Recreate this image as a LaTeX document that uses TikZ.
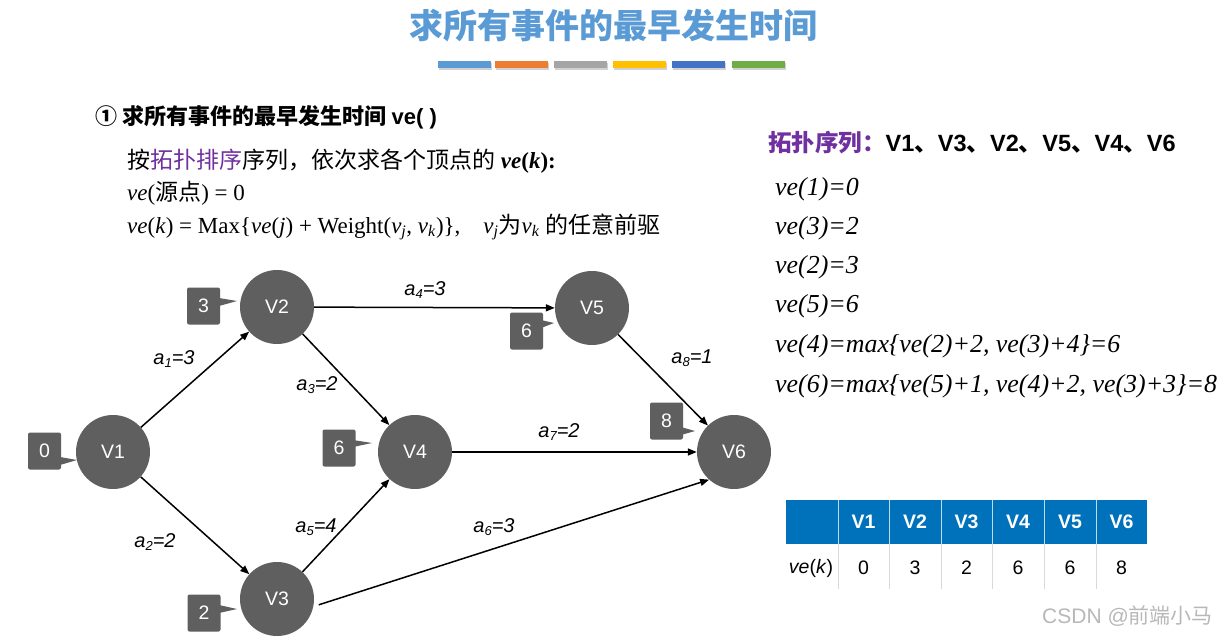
\documentclass[tikz,border=0pt]{standalone}
\usepackage{fontspec}
\setmainfont{Liberation Serif}
\setsansfont{Liberation Sans}
\newfontfamily\cjk{Noto Sans CJK SC}
\newfontfamily\hv{Liberation Sans}
\usetikzlibrary{arrows.meta}
\definecolor{nodegray}{RGB}{95,95,95}
\definecolor{titleblue}{RGB}{91,155,213}
\definecolor{purp}{RGB}{112,48,160}
\definecolor{tblue}{RGB}{0,114,188}
\definecolor{bc1}{RGB}{91,155,213}
\definecolor{bc2}{RGB}{237,125,49}
\definecolor{bc3}{RGB}{165,165,165}
\definecolor{bc4}{RGB}{255,192,0}
\definecolor{bc5}{RGB}{68,114,196}
\definecolor{bc6}{RGB}{112,173,71}
\newcommand\sbs[1]{\raisebox{-3pt}{\fontsize{13}{13}\selectfont #1}}
\tikzset{
 vtx/.style={circle, fill=nodegray, minimum size=74pt, inner sep=0pt, text=white, font=\hv\fontsize{19.5}{19.5}\selectfont},
 tagbox/.style={fill=nodegray, rounded corners=2pt, minimum width=33pt, minimum height=37pt, inner sep=0pt, text=white, font=\hv\fontsize{19.5}{19.5}\selectfont},
 arc/.style={line width=1.5pt, -{Triangle[length=9pt,width=7pt]}},
 elab/.style={font=\hv\itshape\fontsize{20}{20}\selectfont, inner sep=0pt},
 body/.style={anchor=west, inner sep=0pt, font=\fontsize{23}{23}\selectfont},
 veline/.style={anchor=base west, inner sep=0pt, font=\itshape\fontsize{25.9}{25.9}\selectfont},
 thead/.style={text=white, font=\hv\bfseries\fontsize{19.5}{19.5}\selectfont, inner sep=0pt},
 tcell/.style={font=\hv\fontsize{19.5}{19.5}\selectfont, inner sep=0pt},
}
\begin{document}
\begin{tikzpicture}[x=1pt,y=-1pt]
\useasboundingbox (0,0) rectangle (1227,635);
\fill[white] (0,0) rectangle (1227,635);
% title
\node[text=titleblue, font=\cjk\bfseries\fontsize{34}{34}\selectfont, inner sep=0pt] (title) at (613,26) {求所有事件的最早发生时间};
\foreach \xa/\c in {438/bc1,495/bc2,554/bc3,613/bc4,672/bc5,732/bc6}{
  \fill[black!18] (\xa+1,63) rectangle (\xa+54,70);
  \fill[\c] (\xa,61) rectangle (\xa+53,68);
}
% heading
\node[anchor=west, inner sep=0pt, font=\fontsize{22}{22}\selectfont] (head) at (95,117) {{\cjk\bfseries ① 求所有事件的最早发生时间} {\hv\bfseries ve( )}};
\node[body] (l1) at (127,161) {{\cjk 按}{\cjk\color{purp}拓扑排序}{\cjk 序列，依次求各个顶点的} \textbf{\textit{ve}(\textit{k}):}};
\node[body] (l2) at (127,193) {\textit{ve}({\cjk 源点}) = 0};
\node[body] (l3) at (127,227) {\textit{ve}(\textit{k}) = Max\{\textit{ve}(\textit{j}) + Weight(\textit{v}\textsubscript{\textit{j}}, \textit{v}\textsubscript{\textit{k}})\},\quad \textit{v}\textsubscript{\textit{j}}{\cjk 为}\textit{v}\textsubscript{\textit{k}} {\cjk 的任意前驱}};
% right text
\node[anchor=west, inner sep=0pt, font=\fontsize{23.5}{23.5}\selectfont] (topo) at (768,143) {{\cjk\bfseries\color{purp}拓扑序列：}{\hv\bfseries V1}{\cjk\bfseries 、}{\hv\bfseries V3}{\cjk\bfseries 、}{\hv\bfseries V2}{\cjk\bfseries 、}{\hv\bfseries V5}{\cjk\bfseries 、}{\hv\bfseries V4}{\cjk\bfseries 、}{\hv\bfseries V6}};
\node[veline] (e1) at (775,195) {ve(1)=0};
\node[veline] (e2) at (775,234) {ve(3)=2};
\node[veline] (e3) at (775,273) {ve(2)=3};
\node[veline] (e4) at (775,312) {ve(5)=6};
\node[veline] (e5) at (775,352) {ve(4)=max\{ve(2)+2, ve(3)+4\}=6};
\node[veline] (e6) at (775,392) {ve(6)=max\{ve(5)+1, ve(4)+2, ve(3)+3\}=8};
% graph
\node[vtx] (V1) at (113,452) {V1};
\node[vtx] (V2) at (277,307) {V2};
\node[vtx] (V3) at (277,599) {V3};
\node[vtx] (V4) at (415,452) {V4};
\node[vtx] (V5) at (592,308) {V5};
\node[vtx] (V6) at (734,452) {V6};
\draw[arc] (V1) -- (V2);
\draw[arc] (V1) -- (V3);
\draw[arc] (V2) -- (V4);
\draw[arc] (V2) -- (V5);
\draw[arc] (V3) -- (V4);
\draw[arc] ([xshift=5pt]V3.-9) -- (V6.228);
\draw[arc] (V4) -- (V6);
\draw[arc] (V5) -- (V6);
\node[elab] (la1) at (174,359) {a\sbs{1}=3};
\node[elab] (la2) at (155,542) {a\sbs{2}=2};
\node[elab] (la3) at (317,385) {a\sbs{3}=2};
\node[elab] (la4) at (425,290) {a\sbs{4}=3};
\node[elab] (la5) at (316,527) {a\sbs{5}=4};
\node[elab] (la6) at (494,527) {a\sbs{6}=3};
\node[elab] (la7) at (559,432) {a\sbs{7}=2};
\node[elab] (la8) at (692,358) {a\sbs{8}=1};
% tags
\fill[nodegray] (60,457) -- (77,460) -- (60,465) -- cycle;
\node[tagbox] (t1) at (44.5,451) {0};
\fill[nodegray] (219,298) -- (237,301) -- (219,306) -- cycle;
\node[tagbox] (t2) at (203.5,306) {3};
\fill[nodegray] (353,440) -- (372,443) -- (353,447) -- cycle;
\node[tagbox] (t4) at (339,448) {6};
\fill[nodegray] (541,320) -- (554,323) -- (541,328) -- cycle;
\node[tagbox] (t5) at (526.5,331) {6};
\fill[nodegray] (681,427) -- (695,431) -- (681,435) -- cycle;
\node[tagbox] (t6) at (666.5,421) {8};
\fill[nodegray] (219,605) -- (237,609) -- (219,613) -- cycle;
\node[tagbox] (t3) at (204,613) {2};
% table
\fill[tblue] (786,500) rectangle (1147,544);
\foreach \xs in {838,889,941,992,1044,1096}{
  \draw[white!75!tblue, line width=0.8pt] (\xs,500) -- (\xs,544);
  \draw[black!15, line width=0.8pt] (\xs,544) -- (\xs,589);
}
\node[thead] (h1) at (863.5,522) {V1};
\node[thead] (h2) at (915,522) {V2};
\node[thead] (h3) at (966.5,522) {V3};
\node[thead] (h4) at (1018,522) {V4};
\node[thead] (h5) at (1070,522) {V5};
\node[thead] (h6) at (1121.5,522) {V6};
\node[tcell] (r0) at (811,568) {\textit{ve}(\textit{k})};
\node[tcell] (r1) at (863.5,568) {0};
\node[tcell] (r2) at (915,568) {3};
\node[tcell] (r3) at (966.5,568) {2};
\node[tcell] (r4) at (1018,568) {6};
\node[tcell] (r5) at (1070,568) {6};
\node[tcell] (r6) at (1121.5,568) {8};
% watermark
\node[anchor=west, inner sep=0pt, text=black!28, font=\hv\fontsize{21}{21}\selectfont] (wm) at (1042,616) {CSDN @{\cjk 前端小马}};
\end{tikzpicture}
\end{document}
